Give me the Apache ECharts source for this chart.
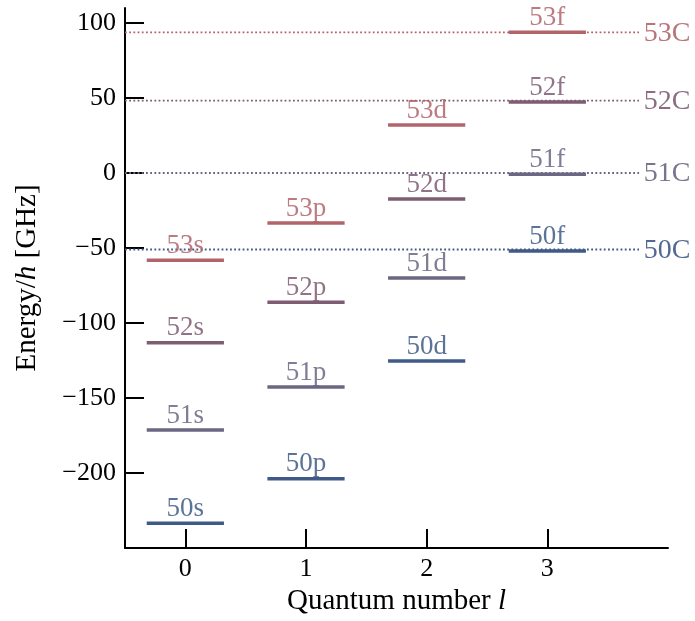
<!DOCTYPE html>
<html>
<head>
<meta charset="utf-8">
<script src="https://cdn.jsdelivr.net/npm/echarts@6/dist/echarts.min.js"></script>
<style>html,body{margin:0;padding:0;background:#fff}#c{width:695px;height:621px}</style>
</head>
<body>
<div id="c"></div>
<script>
const lValues = [0, 1, 2, 3];
const lLetters = ['s', 'p', 'd', 'f'];
const nValues = [50, 51, 52, 53];
const sEnergies = [-233.5, -171.3, -113.1, -58.2];
const pEnergies = [-203.8, -142.7, -86.2, -33.3];
const dEnergies = [-125.3, -70.0, -17.3, 32.0];
const fEnergies = [-52.0, -0.9, 47.3, 93.8];
const coulombEnergies = [-51.0, 0.0, 48.2, 93.7];
const xTickValues = [0, 1, 2, 3];
const yTickValues = [-200, -150, -100, -50, 0, 50, 100];
const nColors = ['#3f5a86', '#6b6682', '#7e5c72', '#b2646b'];

const energiesByL = [sEnergies, pEnergies, dEnergies, fEnergies];
const levelData = [];
const levelLabels = [];
lValues.forEach((l, li) => {
  nValues.forEach((n, ni) => {
    levelData.push([l, energiesByL[li][ni], ni]);
    levelLabels.push(n + lLetters[li]);
  });
});
const coulombData = coulombEnergies.map((e, ni) => [3.8, e, ni]);
const coulombLabels = nValues.map(n => n + 'C');

const FONT = '"Liberation Serif", "Times New Roman", serif';
const HALF = 0.32;
const C_START = -0.5, C_END = 3.76;

const chart = echarts.init(document.getElementById('c'), null, {renderer: 'canvas'});
chart.setOption({
  animation: false,
  backgroundColor: '#ffffff',
  grid: {left: 125, right: 27, top: 8, bottom: 73, containLabel: false},
  xAxis: {
    type: 'value', min: -0.5, max: 4,
    name: 'Quantum number {i|l}', nameLocation: 'middle', nameGap: 36,
    nameTextStyle: {fontFamily: FONT, fontSize: 29, color: '#000',
      rich: {i: {fontFamily: FONT, fontSize: 29, fontStyle: 'italic', color: '#000'}}},
    axisLine: {show: true, onZero: false, lineStyle: {color: '#000', width: 2}},
    axisTick: {show: true, inside: true, length: 19, customValues: xTickValues, lineStyle: {color: '#000', width: 2}},
    axisLabel: {show: true, customValues: xTickValues, fontFamily: FONT, fontSize: 26, color: '#000', margin: 8},
    splitLine: {show: false}
  },
  yAxis: {
    type: 'value', min: -250, max: 110,
    name: 'Energy/{i|h} [GHz]', nameLocation: 'middle', nameGap: 83, nameRotate: 90,
    nameTextStyle: {fontFamily: FONT, fontSize: 29, color: '#000',
      rich: {i: {fontFamily: FONT, fontSize: 29, fontStyle: 'italic', color: '#000'}}},
    axisLine: {show: true, onZero: false, lineStyle: {color: '#000', width: 2}},
    axisTick: {show: true, inside: true, length: 19, customValues: yTickValues, lineStyle: {color: '#000', width: 2}},
    axisLabel: {show: true, customValues: yTickValues, fontFamily: FONT, fontSize: 26, color: '#000', margin: 9,
      formatter: v => String(v).replace('-', '\u2212')},
    splitLine: {show: false}
  },
  series: [
    {
      type: 'custom', coordinateSystem: 'cartesian2d', clip: false, z: 2,
      data: coulombData,
      renderItem: function (params, api) {
        const e = api.value(1), ni = api.value(2);
        const a = api.coord([C_START, e]);
        const b = api.coord([C_END, e]);
        const t = api.coord([api.value(0), e]);
        const col = nColors[ni];
        return {type: 'group', children: [
          {type: 'line', shape: {x1: a[0], y1: a[1], x2: b[0], y2: b[1]},
           style: {stroke: col, lineWidth: 1.8, lineDash: [1.8, 2.4]}},
          {type: 'text', style: {text: coulombLabels[params.dataIndex], x: t[0], y: t[1] + 1,
            align: 'left', verticalAlign: 'middle', fill: col, opacity: 0.9,
            fontFamily: FONT, fontSize: 28}}
        ]};
      }
    },
    {
      type: 'custom', coordinateSystem: 'cartesian2d', clip: false, z: 3,
      data: levelData,
      renderItem: function (params, api) {
        const l = api.value(0), e = api.value(1), ni = api.value(2);
        const a = api.coord([l - HALF, e]);
        const b = api.coord([l + HALF, e]);
        const c = api.coord([l, e]);
        const col = nColors[ni];
        return {type: 'group', children: [
          {type: 'line', shape: {x1: a[0], y1: a[1], x2: b[0], y2: b[1]},
           style: {stroke: col, lineWidth: 3.5}},
          {type: 'text', style: {text: levelLabels[params.dataIndex], x: c[0], y: c[1] - 1,
            align: 'center', verticalAlign: 'bottom', fill: col, opacity: 0.85,
            fontFamily: FONT, fontSize: 27}}
        ]};
      }
    }
  ]
});
</script>
</body>
</html>
